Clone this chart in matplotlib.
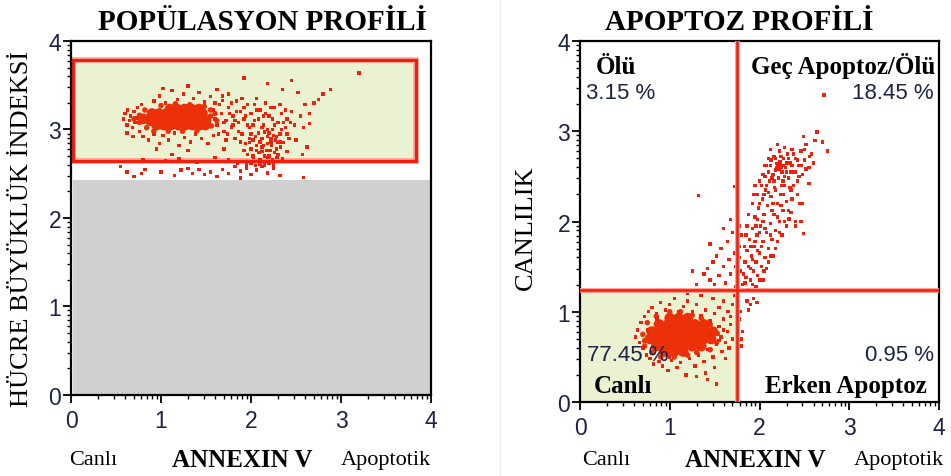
import numpy as np
import matplotlib
matplotlib.use('Agg')
import matplotlib.pyplot as plt
from matplotlib.patches import Rectangle

# ---- population profile (left) ----
pop_core = [
    (0.80, 3.12), (0.88, 3.10), (0.96, 3.10), (1.04, 3.10), (1.12, 3.10), (1.20, 3.10),
    (1.28, 3.10), (1.36, 3.10), (1.44, 3.10), (1.50, 3.10),
    (0.90, 3.18), (0.98, 3.18), (1.06, 3.18), (1.14, 3.18), (1.22, 3.18), (1.30, 3.18),
    (1.38, 3.18), (1.46, 3.18),
    (0.95, 3.05), (1.03, 3.05), (1.11, 3.05), (1.19, 3.05), (1.27, 3.05), (1.35, 3.05),
    (1.43, 3.05), (1.49, 3.05),
    (1.10, 3.23), (1.18, 3.23), (1.26, 3.23), (1.34, 3.23), (1.42, 3.23),
]
pop_halo = [
    (0.76, 3.08), (0.76, 3.16), (0.82, 3.22), (0.84, 3.02), (0.92, 2.98), (1.00, 3.27),
    (1.08, 2.98), (1.16, 3.29), (1.24, 2.98), (1.32, 3.28), (1.40, 2.99), (1.48, 3.26),
    (1.55, 3.15), (1.56, 3.04), (1.55, 3.22), (0.70, 3.12), (1.60, 3.18), (1.62, 3.10),
]
pop_points = [
    # left fringe
    (0.58, 3.12), (0.60, 3.18), (0.62, 3.05), (0.63, 3.22), (0.65, 3.10), (0.66, 3.15),
    (0.68, 3.02), (0.70, 3.20), (0.71, 3.08), (0.73, 3.13), (0.74, 3.25), (0.76, 2.98),
    (0.62, 2.96), (0.69, 2.92), (0.78, 3.28),
    # under the core
    (0.80, 2.92), (0.86, 2.88), (0.92, 2.95), (0.98, 2.84), (1.02, 2.93), (1.08, 2.88),
    (1.15, 2.96), (1.20, 2.82), (1.26, 2.91), (1.33, 2.86), (1.38, 2.95), (1.45, 2.90),
    (1.52, 2.84), (1.58, 2.93), (0.95, 2.78), (1.30, 2.76), (1.12, 2.72), (1.70, 2.78),
    # above the core
    (0.92, 3.32), (0.98, 3.38), (1.05, 3.30), (1.12, 3.44), (1.18, 3.34), (1.25, 3.40),
    (1.30, 3.49), (1.36, 3.35), (1.42, 3.42), (1.48, 3.31), (1.55, 3.37), (1.62, 3.45),
    (1.68, 3.33), (1.75, 3.40), (1.02, 3.46),
    # spread to the right
    (1.58, 3.22), (1.60, 3.12), (1.62, 3.05), (1.65, 3.28), (1.67, 3.18), (1.70, 2.98),
    (1.72, 3.10), (1.75, 3.25), (1.78, 3.03), (1.80, 3.15), (1.82, 2.90), (1.84, 3.32),
    (1.86, 3.08), (1.88, 3.20), (1.90, 2.95), (1.92, 3.12), (1.94, 2.84), (1.96, 3.28),
    (1.98, 3.02), (2.00, 3.18), (2.02, 2.88), (2.04, 3.10), (2.06, 3.35), (2.08, 2.96),
    (2.10, 3.22), (2.12, 2.80), (2.14, 3.05), (2.16, 3.30), (2.18, 2.92), (2.20, 3.15),
    (2.22, 2.86), (2.24, 3.00), (2.26, 3.25), (2.28, 2.78), (2.30, 3.08), (2.32, 2.95),
    (2.34, 3.18), (2.36, 2.85), (2.38, 3.02), (2.40, 3.12), (2.42, 2.90), (2.45, 3.20),
    (2.48, 3.05), (2.50, 2.88),
    (1.60, 3.30), (1.64, 2.95), (1.68, 3.38), (1.72, 2.88), (1.76, 3.18), (1.80, 3.05),
    (1.84, 3.20), (1.88, 2.86), (1.92, 3.25), (1.96, 3.05), (2.00, 2.95), (2.04, 3.28),
    (2.08, 3.12), (2.12, 3.02), (2.16, 3.18), (2.20, 2.96), (2.24, 3.12), (2.28, 2.92),
    (2.32, 3.28), (2.36, 3.08), (2.40, 2.95), (2.44, 3.08), (1.70, 3.08), (1.74, 2.95),
    (1.78, 3.30), (1.82, 3.10), (1.86, 2.98), (1.90, 3.35), (1.94, 3.15), (1.98, 2.90),
    (2.02, 3.05), (2.06, 3.22), (2.10, 2.86), (2.14, 3.15), (2.18, 3.00), (2.22, 3.25),
    (2.26, 3.05), (2.30, 2.85), (2.34, 3.00), (2.38, 3.22),
    # second clump
    (1.96, 2.72), (2.00, 2.78), (2.03, 2.68), (2.06, 2.82), (2.09, 2.74), (2.12, 2.90),
    (2.15, 2.70), (2.18, 2.84), (2.21, 2.76), (2.24, 2.66), (2.27, 2.88), (2.30, 2.72),
    (2.05, 2.92), (2.15, 2.97), (2.25, 2.93), (2.33, 2.80), (1.92, 2.76), (2.19, 2.68),
    (2.08, 2.64), (2.28, 2.64),
    (1.98, 2.85), (2.02, 2.70), (2.06, 2.76), (2.10, 2.66), (2.14, 2.82), (2.17, 2.76),
    (2.20, 2.70), (2.23, 2.82), (2.26, 2.74), (2.29, 2.68), (2.32, 2.86), (2.12, 2.75),
    (2.22, 2.90),
    # tail
    (2.55, 3.15), (2.58, 3.02), (2.60, 3.28), (2.62, 2.80), (2.65, 3.18), (2.70, 3.30),
    (2.75, 3.34), (2.80, 3.40), (2.88, 3.45), (2.57, 2.72), (2.40, 2.75), (2.52, 3.42),
    (2.45, 3.55), (2.35, 3.45), (2.18, 3.52), (1.92, 3.58), (2.65, 3.07), (3.20, 3.64),
    # below the gate
    (0.55, 2.58), (0.62, 2.52), (0.78, 2.50), (0.82, 2.55), (1.00, 2.52), (1.15, 2.48),
    (1.22, 2.54), (1.30, 2.56), (1.35, 2.50), (1.42, 2.55), (1.48, 2.49), (1.55, 2.52),
    (1.62, 2.47), (1.68, 2.55), (1.75, 2.50), (1.82, 2.58), (1.88, 2.53), (1.95, 2.56),
    (2.00, 2.49), (2.06, 2.54), (2.12, 2.58), (2.18, 2.51), (2.25, 2.56), (2.32, 2.48),
    (2.58, 2.46), (0.70, 2.47), (1.88, 2.45),
    (0.80, 2.66), (1.05, 2.65), (1.20, 2.67), (1.40, 2.63), (1.60, 2.68), (1.75, 2.66),
    (1.85, 2.62), (2.35, 2.67), (2.45, 2.64),
    (1.95, 2.60), (2.00, 2.62), (2.05, 2.59), (2.10, 2.61), (2.15, 2.60), (2.20, 2.62),
    (2.25, 2.60),
]
pop_gate = (0.02, 2.64, 3.83, 3.79)   # x0, y0, x1, y1
debris_top = 2.43

# ---- apoptosis profile (right) ----
apo_core = [
    (0.85, 0.62), (0.95, 0.62), (1.05, 0.62), (1.15, 0.62), (1.25, 0.62), (1.35, 0.62),
    (0.78, 0.70), (0.88, 0.70), (0.98, 0.70), (1.08, 0.70), (1.18, 0.70), (1.28, 0.70),
    (1.38, 0.70), (1.46, 0.70),
    (0.80, 0.78), (0.90, 0.78), (1.00, 0.78), (1.10, 0.78), (1.20, 0.78), (1.30, 0.78),
    (1.40, 0.78), (1.48, 0.78),
    (0.88, 0.86), (0.98, 0.86), (1.08, 0.86), (1.18, 0.86), (1.28, 0.86), (1.38, 0.86),
    (1.00, 0.93), (1.10, 0.93), (1.20, 0.93),
    (0.95, 0.56), (1.05, 0.56), (1.15, 0.56),
]
apo_halo = [
    (0.70, 0.75), (0.72, 0.68), (0.75, 0.88), (0.80, 0.55), (0.85, 0.95), (0.90, 0.50),
    (1.00, 1.00), (1.12, 1.00), (1.25, 0.96), (1.35, 0.93), (1.45, 0.86), (1.53, 0.76),
    (1.52, 0.66), (1.45, 0.58), (1.30, 0.55), (1.20, 0.52), (1.05, 0.50), (0.72, 0.62),
]
apo_points = [
    # around the live cluster
    (0.62, 0.72), (0.64, 0.80), (0.66, 0.66), (0.68, 0.88), (0.70, 0.60), (0.72, 0.95),
    (0.74, 0.52), (0.76, 1.00), (0.78, 0.48), (0.80, 1.05), (0.82, 0.42), (0.85, 0.98),
    (0.88, 0.45), (0.90, 1.10), (0.92, 0.40), (0.95, 1.02), (0.98, 0.35), (1.00, 1.08),
    (1.02, 0.46), (1.05, 1.15), (1.08, 0.38), (1.10, 1.00), (1.12, 0.44), (1.15, 1.06),
    (1.18, 0.30), (1.20, 1.12), (1.22, 0.48), (1.25, 1.00), (1.28, 0.40), (1.30, 1.08),
    (1.32, 0.52), (1.35, 0.96), (1.38, 0.45), (1.40, 1.02), (1.42, 0.58), (1.45, 0.90),
    (1.48, 0.50), (1.50, 0.98), (1.52, 0.64), (1.55, 0.84), (1.57, 0.72), (1.58, 0.56),
    (1.60, 0.92), (1.62, 0.66), (1.64, 0.78), (1.66, 0.60), (1.68, 0.86), (1.70, 0.70),
    (1.55, 1.05), (1.60, 1.12), (1.65, 1.00), (1.48, 1.15), (1.35, 1.18), (1.20, 1.20),
    (1.62, 0.48), (1.50, 0.38), (1.40, 0.32), (1.30, 0.28), (1.52, 0.20), (1.42, 0.25),
    (0.90, 0.55), (1.00, 0.50), (1.60, 0.80), (1.45, 0.75), (1.55, 0.68), (1.68, 0.95),
    (1.70, 1.08), (1.72, 1.18), (0.86, 0.92), (0.75, 0.80),
    # early apoptotic
    (1.80, 0.62), (1.80, 0.70), (1.81, 0.78), (1.78, 0.92), (1.79, 1.00), (1.86, 1.12),
    (1.90, 1.08), (1.93, 1.15), (1.97, 1.10), (1.88, 1.02),
    # tail climbing into late apoptotic
    (1.38, 1.42), (1.42, 1.48), (1.45, 1.35), (1.48, 1.55), (1.50, 1.30), (1.52, 1.62),
    (1.55, 1.40), (1.57, 1.70), (1.60, 1.50), (1.62, 1.32), (1.64, 1.78), (1.66, 1.58),
    (1.68, 1.42), (1.70, 1.88), (1.72, 1.65), (1.73, 1.28), (1.55, 1.25), (1.30, 1.30),
    (1.25, 1.45), (1.45, 1.75), (1.60, 1.92), (1.68, 2.02), (1.72, 2.39), (1.32, 2.29),
    (1.74, 1.50), (1.76, 1.35), (1.77, 1.72), (1.78, 1.60), (1.79, 1.45), (1.80, 1.85),
    (1.81, 1.30), (1.78, 1.95),
    # late apoptotic / dead
    (1.82, 1.42), (1.84, 1.55), (1.85, 1.38), (1.86, 1.68), (1.88, 1.50), (1.89, 1.80),
    (1.90, 1.35), (1.91, 1.62), (1.92, 1.92), (1.93, 1.45), (1.94, 1.72), (1.95, 2.05),
    (1.96, 1.55), (1.97, 1.85), (1.98, 1.40), (1.99, 2.15), (2.00, 1.65), (2.01, 1.95),
    (2.02, 1.50), (2.03, 2.25), (2.04, 1.78), (2.05, 2.08), (2.06, 1.60), (2.07, 2.35),
    (2.08, 1.88), (2.09, 2.18), (2.10, 1.70), (2.11, 2.45), (2.12, 1.98), (2.13, 2.28),
    (2.14, 1.80), (2.15, 2.52), (2.16, 2.08), (2.17, 2.38), (2.18, 1.90), (2.19, 2.60),
    (2.20, 2.20), (2.21, 2.48), (2.22, 2.00), (2.23, 2.66), (2.24, 2.30), (2.25, 2.55),
    (2.26, 2.12), (2.27, 2.70), (2.28, 2.40), (2.29, 2.60), (2.30, 2.22), (2.31, 2.75),
    (2.32, 2.48), (2.34, 2.65), (2.35, 2.35), (2.36, 2.80), (2.38, 2.55), (2.40, 2.70),
    (2.42, 2.45), (2.44, 2.62), (2.46, 2.78), (2.48, 2.52), (2.50, 2.68), (2.52, 2.85),
    (2.55, 2.60), (2.58, 2.75), (2.62, 2.90), (2.64, 2.99), (2.70, 2.88), (2.76, 2.78),
    (2.49, 2.94), (2.72, 3.40),
    (1.95, 1.78), (2.00, 1.88), (2.05, 2.30), (2.08, 2.40), (2.10, 2.55), (2.12, 2.62),
    (2.15, 2.20), (2.18, 2.70), (2.20, 2.62), (2.22, 2.58), (2.24, 2.72), (2.26, 2.62),
    (2.28, 2.50), (2.30, 2.65), (2.16, 2.45), (2.06, 2.50), (2.02, 2.40), (1.98, 2.30),
    (2.13, 2.68), (2.25, 2.40), (1.92, 2.20), (2.35, 2.55), (2.38, 2.40), (2.42, 2.30),
    (2.45, 2.20), (2.30, 1.95), (2.35, 2.10), (2.25, 1.85), (2.20, 1.78), (2.15, 1.62),
    (2.10, 1.55), (2.05, 1.45), (2.00, 1.35), (2.40, 2.00), (2.48, 2.20), (2.55, 2.42),
    (2.46, 2.00), (2.49, 1.87), (2.33, 2.03), (2.40, 1.95),
    (2.19, 2.64), (2.22, 2.63), (2.21, 2.58), (2.24, 2.60), (2.18, 2.57),
    (1.86, 1.95), (1.88, 2.08), (1.90, 1.72), (1.92, 1.58), (1.94, 2.30), (1.96, 1.95),
    (1.98, 2.02), (2.00, 2.20), (2.02, 1.72), (2.04, 2.52), (2.06, 1.92), (2.08, 2.62),
    (2.10, 2.32), (2.12, 1.85), (2.14, 2.48), (2.16, 2.72), (2.18, 2.35), (2.20, 2.05),
    (2.22, 2.78), (2.24, 2.18), (2.26, 2.45), (2.28, 2.82), (2.30, 2.55), (2.32, 2.70),
    (2.34, 2.38), (2.36, 2.62), (2.38, 2.75), (2.40, 2.55), (2.42, 2.68), (2.44, 2.50),
    (2.46, 2.62), (2.50, 2.80), (2.52, 2.58), (2.56, 2.72), (2.60, 2.65), (1.85, 1.85),
    (1.83, 1.72), (1.87, 1.25), (1.92, 1.30), (1.96, 1.28), (2.04, 1.35), (2.08, 1.48),
    (2.12, 1.62), (2.18, 1.70), (2.22, 1.88), (2.28, 2.00), (2.32, 2.12), (2.36, 2.25),
    (2.26, 2.30), (2.14, 2.12), (2.04, 2.00), (1.98, 1.68), (1.90, 1.48), (1.84, 1.32),
    (2.10, 2.70), (2.06, 2.62), (2.00, 2.45), (1.95, 2.40), (2.12, 2.80), (2.20, 2.85),
]
quad_x = 1.75
quad_y = 1.24
quad_pct = {'ul': '3.15 %', 'ur': '18.45 %', 'll': '77.45 %', 'lr': '0.95 %'}
quad_names = {'ul': 'Ölü', 'ur': 'Geç Apoptoz/Ölü', 'll': 'Canlı', 'lr': 'Erken Apoptoz'}

RED = '#f01e0a'
CORE_RED = '#ec3008'
GATE_FILL = '#eaf2d2'
GREY = '#d0d0d0'
TICK_COLOR = '#1e2246'
SERIF = 'Liberation Serif'
SANS = 'Liberation Sans'

fig = plt.figure(figsize=(9.51, 4.77), dpi=100)
ax1 = fig.add_axes([0.0747, 0.170, 0.3785, 0.742])
ax2 = fig.add_axes([0.6099, 0.155, 0.3775, 0.757])

# stray frame edge on the left of the second plot
fig.add_artist(plt.Line2D([500 / 951, 500 / 951], [0, 1], color='#ececec', lw=1))

minor = [k + np.log10(m) for k in range(4) for m in range(2, 10)]
for ax in (ax1, ax2):
    ax.set_xlim(0, 4)
    ax.set_ylim(0, 4)
    ax.set_xticks(range(5))
    ax.set_yticks(range(5))
    ax.set_xticks(minor, minor=True)
    ax.set_yticks(minor, minor=True)
    ax.tick_params(which='major', direction='out', length=6, width=1.3, colors='black',
                   labelcolor=TICK_COLOR, labelsize=16.5)
    ax.tick_params(which='minor', direction='out', length=3, width=1.0)
    ax.tick_params(axis='y', pad=1)
    ax.tick_params(axis='x', pad=4)
    for lab in ax.get_xticklabels() + ax.get_yticklabels():
        lab.set_fontfamily(SANS)
    for sp in ax.spines.values():
        sp.set_linewidth(1.6)
        sp.set_color('black')


def draw_cloud(ax, core, halo, points):
    c = np.array(core)
    h = np.array(halo)
    p = np.array(points)
    ax.scatter(c[:, 0], c[:, 1], s=60, color=CORE_RED, edgecolors='none', zorder=2)
    ax.scatter(h[:, 0], h[:, 1], s=16, color=CORE_RED, edgecolors='none', zorder=2)
    ax.scatter(p[:, 0], p[:, 1], s=6, marker='s', color=RED, edgecolors='none', zorder=3)


# left: gate and debris region
gx0, gy0, gx1, gy1 = pop_gate
ax1.add_patch(Rectangle((gx0, 0), 4 - gx0, debris_top, facecolor=GREY, edgecolor='none', zorder=0))
ax1.add_patch(Rectangle((gx0, gy0), gx1 - gx0, gy1 - gy0, facecolor=GATE_FILL,
                        edgecolor='none', zorder=0))
ax1.add_patch(Rectangle((gx0, gy0), gx1 - gx0, gy1 - gy0, facecolor='none',
                        edgecolor='#ff9a90', lw=4.0, zorder=1))
ax1.add_patch(Rectangle((gx0, gy0), gx1 - gx0, gy1 - gy0, facecolor='none',
                        edgecolor=RED, lw=2.2, zorder=1))
draw_cloud(ax1, pop_core, pop_halo, pop_points)

# right: quadrants
ax2.add_patch(Rectangle((0, 0), quad_x, quad_y, facecolor=GATE_FILL, edgecolor='none', zorder=0))
draw_cloud(ax2, apo_core, apo_halo, apo_points)
for lw, col in ((3.5, '#ff9a90'), (1.8, RED)):
    ax2.axvline(quad_x, color=col, lw=lw, zorder=4)
    ax2.axhline(quad_y, color=col, lw=lw, zorder=4)

bold = dict(family=SERIF, fontweight='bold', fontsize=18, color='black')
pct = dict(family=SANS, fontsize=16, color=TICK_COLOR)
ax2.text(0.17, 3.72, quad_names['ul'], ha='left', va='center', **bold)
ax2.text(0.07, 3.43, quad_pct['ul'], ha='left', va='center', **pct)
ax2.text(3.96, 3.73, quad_names['ur'], ha='right', va='center', **bold)
ax2.text(3.94, 3.43, quad_pct['ur'], ha='right', va='center', **pct)
ax2.text(0.08, 0.53, quad_pct['ll'], ha='left', va='center', zorder=5, **pct)
ax2.text(3.94, 0.53, quad_pct['lr'], ha='right', va='center', **pct)
ax2.text(0.15, 0.18, quad_names['ll'], ha='left', va='center', **bold)
ax2.text(3.86, 0.18, quad_names['lr'], ha='right', va='center', **bold)

# titles and axis captions
fig.text(262 / 951, 1 - 22 / 477, 'POPÜLASYON PROFİLİ', ha='center', va='center',
         family=SERIF, fontweight='bold', fontsize=21)
fig.text(739 / 951, 1 - 22 / 477, 'APOPTOZ PROFİLİ', ha='center', va='center',
         family=SERIF, fontweight='bold', fontsize=21)
fig.text(22 / 951, 1 - 229 / 477, 'HÜCRE BÜYÜKLÜK İNDEKSİ', rotation=90, ha='center',
         va='center', family=SERIF, fontsize=19)
fig.text(526 / 951, 1 - 228 / 477, 'CANLILIK', rotation=90, ha='center', va='center',
         family=SERIF, fontsize=19)

for cx_canli, cx_annex, cx_apop in ((93, 242, 386), (606, 755, 899)):
    y = 1 - 461 / 477
    fig.text(cx_canli / 951, y, 'Canlı', ha='center', va='center', family=SERIF, fontsize=16)
    fig.text(cx_annex / 951, y, 'ANNEXIN V', ha='center', va='center', family=SERIF,
             fontweight='bold', fontsize=18)
    fig.text(cx_apop / 951, y, 'Apoptotik', ha='center', va='center', family=SERIF, fontsize=16)

fig.savefig('out.png', dpi=100)
